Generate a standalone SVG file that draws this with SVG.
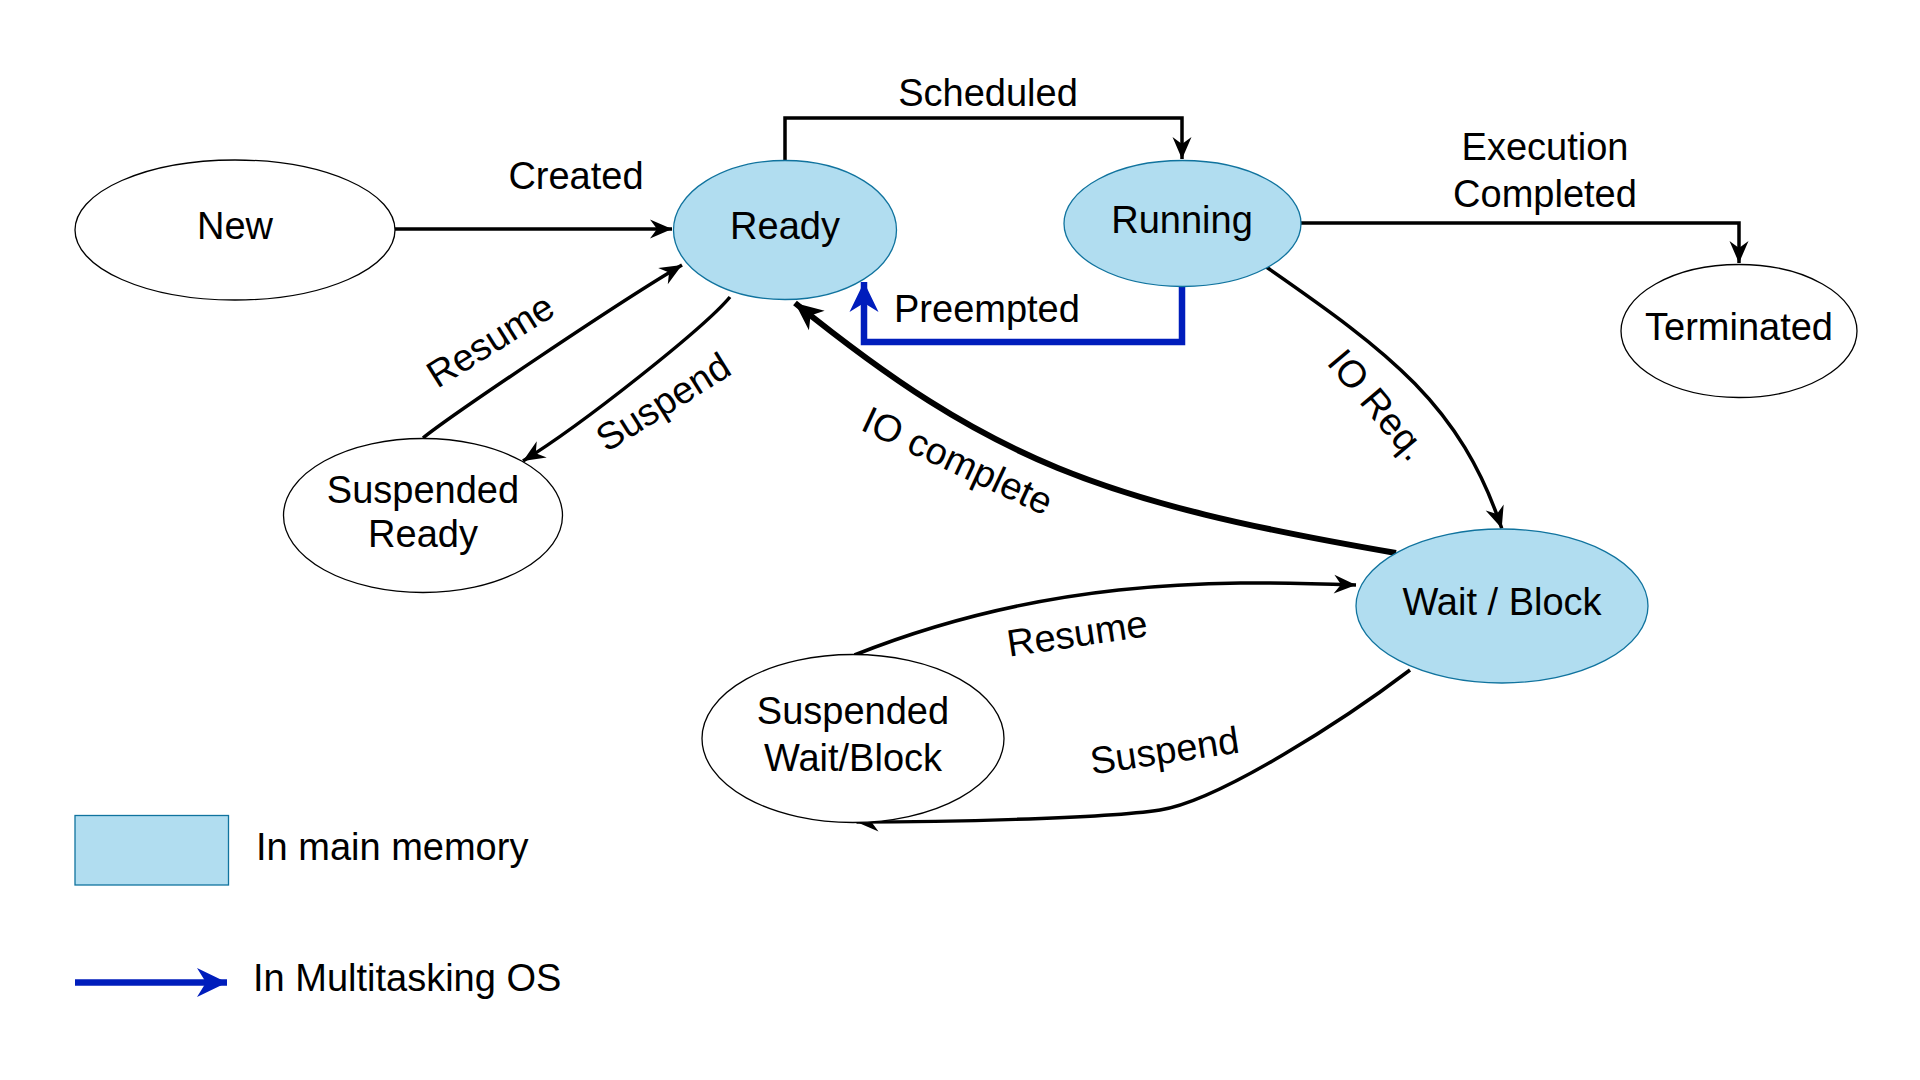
<svg xmlns="http://www.w3.org/2000/svg" width="1920" height="1080" viewBox="0 0 1920 1080">
  <style>
    text { font-family: "Liberation Sans", Arial, Helvetica, sans-serif; font-size: 38px; fill: #000; }
    .c { text-anchor: middle; }
    .node { fill: #ffffff; stroke: #000000; stroke-width: 1.3; }
    .mem { fill: #b1ddf0; stroke: #10739e; stroke-width: 1.3; }
    .edge { fill: none; stroke: #000000; stroke-width: 3.5; }
    .thick { fill: none; stroke: #000000; stroke-width: 6; }
    .blue { fill: none; stroke: #001dbc; stroke-width: 6.5; }
  </style>
  <defs>
    <marker id="arr" viewBox="-24 -11 26 22" refX="0" refY="0" markerWidth="26" markerHeight="22" markerUnits="userSpaceOnUse" orient="auto">
      <path d="M0,0 L-22,-9.5 L-15,0 L-22,9.5 Z" fill="#000000"/>
    </marker>
    <marker id="arrThick" viewBox="-30 -14 32 28" refX="0" refY="0" markerWidth="32" markerHeight="28" markerUnits="userSpaceOnUse" orient="auto">
      <path d="M0,0 L-28,-12.5 L-20,0 L-28,12.5 Z" fill="#000000"/>
    </marker>
    <marker id="arrBlue" viewBox="-32 -16 34 32" refX="0" refY="0" markerWidth="34" markerHeight="32" markerUnits="userSpaceOnUse" orient="auto">
      <path d="M0,0 L-30,-14.5 L-21,0 L-30,14.5 Z" fill="#001dbc"/>
    </marker>
  </defs>

  <rect x="0" y="0" width="1920" height="1080" fill="#ffffff"/>

  <g id="connectors">
    <!-- Created: New -> Ready -->
    <path class="edge" d="M395,229 L672,229" marker-end="url(#arr)"/>
    <!-- Scheduled: Ready -> Running -->
    <path class="edge" d="M785,160 L785,118 L1182,118 L1182,159" marker-end="url(#arr)"/>
    <!-- Execution Completed: Running -> Terminated -->
    <path class="edge" d="M1301,223 L1739,223 L1739,263" marker-end="url(#arr)"/>
    <!-- Preempted: Running -> Ready (blue) -->
    <path class="blue" d="M1182,286 L1182,342 L864,342 L864,282" marker-end="url(#arrBlue)"/>
    <!-- Resume: Suspended Ready -> Ready -->
    <path class="edge" d="M423,438 C450,416 622,300 682,265" marker-end="url(#arr)"/>
    <!-- Suspend: Ready -> Suspended Ready -->
    <path class="edge" d="M730,297 C704,328 583,424 523,461" marker-end="url(#arr)"/>
    <!-- IO complete: Wait/Block -> Ready -->
    <path class="thick" d="M1396,553 C1100.5,502 990,460.5 795,303" marker-end="url(#arrThick)"/>
    <!-- IO Req.: Running -> Wait/Block -->
    <path class="edge" d="M1266.7,267.3 C1389.7,352.8 1460.1,404.8 1501.7,528.3" marker-end="url(#arr)"/>
    <!-- Resume: Suspended Wait/Block -> Wait/Block -->
    <path class="edge" d="M854.5,655 C1040.5,581 1206,579 1356,585" marker-end="url(#arr)"/>
    <!-- Suspend: Wait/Block -> Suspended Wait/Block -->
    <path class="edge" d="M1410,670 C1346,718.5 1219,801 1160,810 C1101,819 936,822 856.5,822" marker-end="url(#arr)"/>
  </g>

  <g id="edge-labels">
    <text class="c" x="576" y="189">Created</text>
    <text class="c" x="988" y="106">Scheduled</text>
    <text class="c" x="1545" y="160">Execution</text>
    <text class="c" x="1545" y="207">Completed</text>
    <text x="894" y="322">Preempted</text>
    <text class="c" transform="translate(490,340) rotate(-32)" x="0" y="13.5">Resume</text>
    <text class="c" transform="translate(665,405) rotate(-32)" x="0" y="9.5">Suspend</text>
    <text class="c" transform="translate(956,464) rotate(25)" x="0" y="9.5">IO complete</text>
    <text class="c" transform="translate(1375,407) rotate(50)" x="0" y="9.5">IO Req.</text>
    <text class="c" transform="translate(1077,633) rotate(-8.5)" x="0" y="13.5">Resume</text>
    <text class="c" transform="translate(1165,754) rotate(-8.5)" x="0" y="9.5">Suspend</text>
  </g>

  <g id="node-new">
    <ellipse class="node" cx="235" cy="230" rx="160" ry="70"/>
    <text class="c" x="235" y="239">New</text>
  </g>
  <g id="node-ready">
    <ellipse class="mem" cx="785" cy="230" rx="111.5" ry="69.5"/>
    <text class="c" x="785" y="239">Ready</text>
  </g>
  <g id="node-running">
    <ellipse class="mem" cx="1182.5" cy="223.5" rx="118.5" ry="63"/>
    <text class="c" x="1182" y="233">Running</text>
  </g>
  <g id="node-terminated">
    <ellipse class="node" cx="1739" cy="331" rx="118" ry="66.5"/>
    <text class="c" x="1739" y="340">Terminated</text>
  </g>
  <g id="node-suspended-ready">
    <ellipse class="node" cx="423" cy="515.5" rx="139.5" ry="77"/>
    <text class="c" x="423" y="503">Suspended</text>
    <text class="c" x="423" y="547">Ready</text>
  </g>
  <g id="node-wait-block">
    <ellipse class="mem" cx="1502" cy="606" rx="146" ry="77"/>
    <text class="c" x="1502" y="615">Wait / Block</text>
  </g>
  <g id="node-suspended-wait-block">
    <ellipse class="node" cx="853" cy="738.5" rx="151" ry="84"/>
    <text class="c" x="853" y="724">Suspended</text>
    <text class="c" x="853" y="771">Wait/Block</text>
  </g>

  <g id="legend">
    <rect class="mem" x="75" y="815.5" width="153.5" height="69.5"/>
    <text x="256" y="860">In main memory</text>
    <path class="blue" d="M75,982.5 L227,982.5" marker-end="url(#arrBlue)"/>
    <text x="253" y="991">In Multitasking OS</text>
  </g>
</svg>
